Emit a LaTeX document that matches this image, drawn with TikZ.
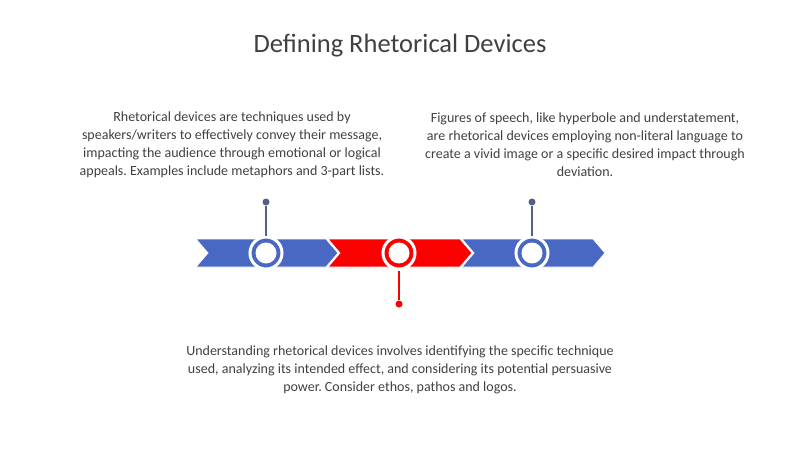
\documentclass[tikz,border=0pt]{standalone}
\usepackage{fontspec}
\setmainfont{Carlito}
\frenchspacing
\begin{document}
\begin{tikzpicture}[x=1pt,y=-1pt]
\tikzstyle{every node}+=[inner sep=0pt]
\definecolor{chblue}{RGB}{72,104,196}
\definecolor{chred}{RGB}{250,0,0}
\definecolor{stemblue}{RGB}{84,96,130}
\definecolor{txt}{RGB}{64,64,64}
\tikzset{body/.style={text=txt,font=\fontsize{14}{18}\selectfont,align=center},
ring/.style={circle,draw=white,line width=3pt,minimum size=32pt,inner sep=0pt},
dot/.style={circle,minimum size=7pt}}
\useasboundingbox (0,0) rectangle (800,449);
\node at (400,46) {\fontsize{26.5}{30}\selectfont\color{txt}Defining Rhetorical Devices};
% chevrons
\fill [chblue,draw=white,line width=0.8pt] (196,239) -- (326,239) -- (338,253) -- (326,267) -- (196,267) -- (208,253) -- cycle;
\fill [chred,draw=white,line width=0.8pt] (328,239) -- (460,239) -- (472,253) -- (460,267) -- (328,267) -- (340,253) -- cycle;
\fill [chblue,draw=white,line width=0.8pt] (462,239) -- (593,239) -- (605,253) -- (593,267) -- (462,267) -- (474,253) -- cycle;
% markers
\node [ring,fill=chblue] (c1) at (266,253) {};
\node [ring,fill=chred] (c2) at (399,253) {};
\node [ring,fill=chblue] (c3) at (532,253) {};
\foreach \c in {c1,c2,c3} \fill [white] (\c) circle (10.5);
\node [dot,fill=stemblue] (d1) at (266,202) {};
\node [dot,fill=chred] (d2) at (399,304) {};
\node [dot,fill=stemblue] (d3) at (532,202) {};
\draw [stemblue,line width=1.2pt] (d1) -- (c1);
\draw [chred,line width=1.2pt] (d2) -- (c2);
\draw [stemblue,line width=1.2pt] (d3) -- (c3);
% texts
\node [body] (t1) at (232,145) {Rhetorical devices are techniques used by\\speakers/writers to effectively convey their message,\\impacting the audience through emotional or logical\\appeals. Examples include metaphors and 3-part lists.};
\node [body] (t3) at (585,145) {Figures of speech, like hyperbole and understatement,\\are rhetorical devices employing non-literal language to\\create a vivid image or a specific desired impact through\\deviation.};
\node [body] (t2) at (400,370) {Understanding rhetorical devices involves identifying the specific technique\\used, analyzing its intended effect, and considering its potential persuasive\\power. Consider ethos, pathos and logos.};
\end{tikzpicture}
\end{document}
